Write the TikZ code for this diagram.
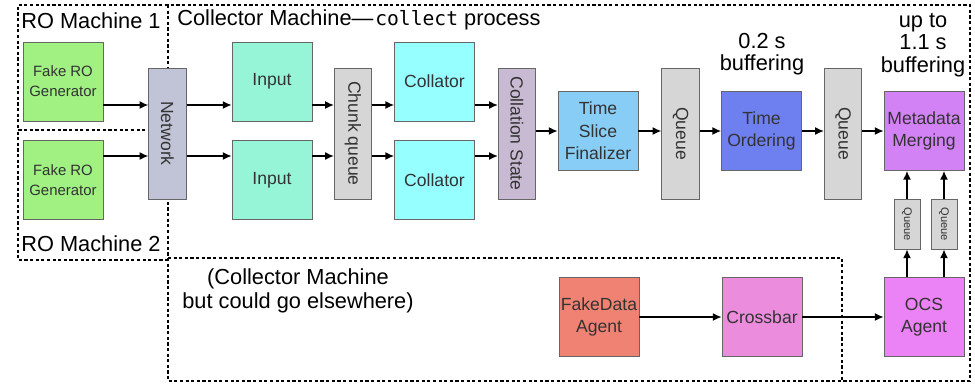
\documentclass[tikz,border=0pt]{standalone}
\usepackage{fontspec}
\setmainfont{Liberation Sans}
\setmonofont{DejaVu Sans Mono}
\usepackage{graphicx}
\usetikzlibrary{arrows.meta}

\definecolor{rogreen}{RGB}{160,240,130}
\definecolor{netgray}{RGB}{192,196,214}
\definecolor{inputaqua}{RGB}{150,245,215}
\definecolor{qgray}{RGB}{214,214,214}
\definecolor{colcyan}{RGB}{150,255,255}
\definecolor{statelav}{RGB}{200,186,210}
\definecolor{tsfblue}{RGB}{135,205,245}
\definecolor{ordblue}{RGB}{110,128,240}
\definecolor{metaviolet}{RGB}{210,130,245}
\definecolor{ocsviolet}{RGB}{235,130,245}
\definecolor{crossorchid}{RGB}{235,140,220}
\definecolor{fakesalmon}{RGB}{240,130,115}

\tikzset{
  box/.style={draw=black!60, line width=0.4pt, text=black!80, align=center,
    inner sep=1pt, font=\fontsize{10}{12.7}\selectfont},
  big/.style={box, minimum width=1.6cm, minimum height=1.58cm},
  tall/.style={box, minimum width=0.75cm, minimum height=2.62cm},
  tiny/.style={box, minimum width=0.52cm, minimum height=1cm, fill=qgray,
    font=\fontsize{6.3}{7}\selectfont},
  region/.style={draw, line width=0.9pt, dash pattern=on 1.8pt off 1.4pt},
  title/.style={font=\fontsize{12.4}{12.8}\selectfont, inner sep=0pt, align=center},
  arr/.style={-{Latex[length=5pt,width=4.5pt]}, line width=0.8pt},
}

\begin{document}
\begin{tikzpicture}[x=0.02cm, y=-0.02cm]
  \useasboundingbox (0,0) rectangle (975,383);
  \draw[region] (168,5) rectangle (970,381);
  \draw[region] (168,5) -- (18,5) -- (18,130) -- (168,130);
  \draw[region] (18,131.5) -- (18,260) -- (168,260);
  \draw[region] (168,258) -- (842,258) -- (842,381);

  \node[title, anchor=west] (ro1) at (21,21) {RO Machine 1};
  \node[title, anchor=west] (ro2) at (21,244) {RO Machine 2};
  \node[title, anchor=west] (coll) at (177,20)
    {Collector Machine—\hspace{1pt}{\fontsize{11.2}{12}\selectfont\ttfamily collect} process};
  \node[title, font=\fontsize{12.4}{13.7}\selectfont] (else) at (298,291) {(Collector Machine\\but could go elsewhere)};
  \node[title] (buf1) at (762,54) {0.2 s\\buffering};
  \node[title] (buf2) at (923,45) {up to\\1.1 s\\buffering};

  \node[big, fill=rogreen, font=\fontsize{8.5}{11.4}\selectfont] (gen1) at (63,81.5) {Fake RO\\Generator};
  \node[big, fill=rogreen, font=\fontsize{8.5}{11.4}\selectfont] (gen2) at (63,180) {Fake RO\\Generator};
  \node[tall, fill=netgray] (net) at (167.5,133.5) {\rotatebox{-90}{Network}};
  \node[big, fill=inputaqua] (in1) at (272,81.5) {Input};
  \node[big, fill=inputaqua] (in2) at (272,180) {Input};
  \node[tall, fill=qgray] (chunk) at (353,133.5) {\rotatebox{-90}{Chunk queue}};
  \node[big, fill=colcyan] (col1) at (434.5,81.5) {Collator};
  \node[big, fill=colcyan] (col2) at (434.5,180) {Collator};
  \node[tall, fill=statelav] (cs) at (517,133.5) {\rotatebox{-90}{Collation State}};
  \node[big, fill=tsfblue] (tsf) at (598,131) {Time\\Slice\\Finalizer};
  \node[tall, fill=qgray] (q1) at (680.5,133.5) {\rotatebox{-90}{Queue}};
  \node[big, fill=ordblue] (tord) at (761.5,131) {Time\\Ordering};
  \node[tall, fill=qgray] (q2) at (843,133.5) {\rotatebox{-90}{Queue}};
  \node[big, fill=metaviolet] (meta) at (924,131) {Metadata\\Merging};
  \node[tiny] (qa) at (907,224) {\rotatebox{-90}{Queue}};
  \node[tiny] (qb) at (944,224) {\rotatebox{-90}{Queue}};
  \node[big, fill=fakesalmon] (fake) at (599,317) {FakeData\\Agent};
  \node[big, fill=crossorchid] (cross) at (762,317) {Crossbar};
  \node[big, fill=ocsviolet] (ocs) at (924,317) {OCS\\Agent};

  \coordinate (up) at (0,105);
  \coordinate (dn) at (0,156);
  \begin{scope}[arr]
    \draw (gen1.east |- up) to (net.west |- up);
    \draw (gen2.east |- dn) to (net.west |- dn);
    \draw (net.east |- up) to (in1.west |- up);
    \draw (net.east |- dn) to (in2.west |- dn);
    \draw (in1.east |- up) to (chunk.west |- up);
    \draw (in2.east |- dn) to (chunk.west |- dn);
    \draw (chunk.east |- up) to (col1.west |- up);
    \draw (chunk.east |- dn) to (col2.west |- dn);
    \draw (col1.east |- up) to (cs.west |- up);
    \draw (col2.east |- dn) to (cs.west |- dn);
    \draw (cs.east |- tsf) to (tsf.west);
    \draw (tsf.east) to (q1.west |- tsf);
    \draw (q1.east |- tord) to (tord.west);
    \draw (tord.east) to (q2.west |- tord);
    \draw (q2.east |- meta) to (meta.west);
    \draw (fake.east) to (cross.west);
    \draw (cross.east) to (ocs.west);
    \draw (ocs.north -| qa) to (qa.south);
    \draw (ocs.north -| qb) to (qb.south);
    \draw (qa.north) to (meta.south -| qa);
    \draw (qb.north) to (meta.south -| qb);
  \end{scope}
\end{tikzpicture}
\end{document}
